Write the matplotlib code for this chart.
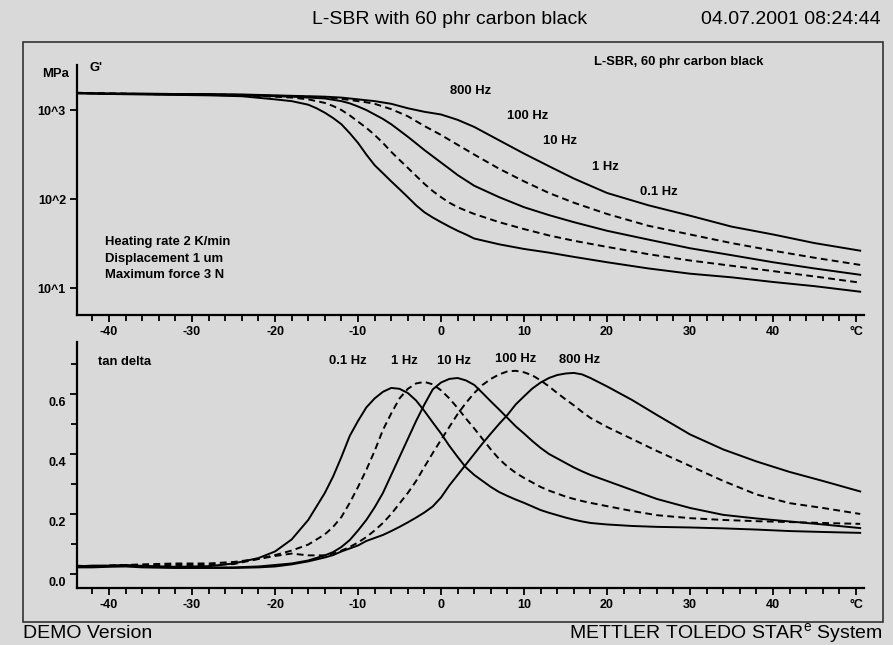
import numpy as np
import matplotlib
matplotlib.use("Agg")
import matplotlib.pyplot as plt
from matplotlib.patches import Rectangle
from matplotlib.ticker import MultipleLocator, FixedLocator, NullLocator
from matplotlib.transforms import ScaledTranslation

plt.rcParams['font.family'] = ['Liberation Sans', 'DejaVu Sans']

# storage modulus G' (MPa) vs temperature
temp_g = ([-44, -40, -36, -32, -28, -24, -20, -18]
          + list(range(-16, 5))
          + [7, 10, 13, 16, 20, 25, 30, 35, 40, 45, 50.5])
g_01 = [1549, 1514, 1496, 1479, 1462, 1429, 1318, 1259,
        1148, 1047, 933, 813, 692, 550, 427, 316, 240, 195, 158, 129, 105, 85, 71, 62, 55, 49, 44, 40, 36,
        31, 27.5, 25, 22.4, 19.5, 16.6, 14.5, 13.2, 11.7, 10.5, 9.1]
g_1 = [1567, 1531, 1514, 1496, 1479, 1462, 1413, 1380,
       1318, 1259, 1202, 1109, 1000, 871, 741, 631, 525, 427, 339, 275, 224, 182, 148, 123, 105, 91, 81, 74, 68,
       55, 46, 39, 34, 29, 24, 20.4, 17.8, 15.5, 13.5, 11.5]
g_10 = [1549, 1531, 1514, 1496, 1479, 1462, 1429, 1413,
        1380, 1365, 1349, 1303, 1259, 1189, 1096, 1000, 891, 794, 692, 589, 501, 422, 355, 302, 257, 219, 186,
        162, 141,
        105, 81, 66, 55, 44, 35, 28, 23.4, 19.5, 16.6, 14.1]
g_100 = [1549, 1531, 1514, 1514, 1496, 1479, 1445, 1429,
         1413, 1396, 1380, 1358, 1334, 1297, 1259, 1222, 1175, 1096, 1023, 933, 851, 750, 661, 589, 525, 462,
         407, 359, 316,
         219, 158, 117, 91, 68, 50, 40, 32, 26.3, 21.9, 18.2]
g_800 = [1549, 1531, 1531, 1514, 1514, 1496, 1462, 1445,
         1429, 1422, 1413, 1396, 1380, 1349, 1318, 1288, 1259, 1216, 1175, 1109, 1047, 1000, 955, 923, 891, 832,
         776, 708, 646,
         457, 324, 234, 170, 117, 85, 65, 49, 40, 32, 26.3]

# tan delta vs temperature
temp_t = ([-44, -42, -40, -38, -36, -32, -28, -25, -22, -20, -18, -16, -14]
          + list(range(-13, 19))
          + [20, 23, 26, 30, 34, 38, 42, 46, 50.5])
tan_01 = [0.025, 0.028, 0.028, 0.030, 0.027, 0.024, 0.026, 0.035, 0.053, 0.075, 0.115, 0.18, 0.27,
          0.325, 0.39, 0.46, 0.51, 0.555, 0.585, 0.607, 0.62, 0.617, 0.603, 0.578, 0.543, 0.505,
          0.468, 0.427, 0.39, 0.355, 0.33, 0.31, 0.29, 0.273, 0.26, 0.248, 0.237, 0.225, 0.213,
          0.204, 0.196, 0.188, 0.181, 0.175, 0.17,
          0.165, 0.16, 0.157, 0.155, 0.152, 0.148, 0.143, 0.14, 0.137]
tan_1 = [0.028, 0.025, 0.027, 0.030, 0.028, 0.030, 0.030, 0.033, 0.050, 0.063, 0.078, 0.098, 0.132,
         0.157, 0.19, 0.237, 0.29, 0.347, 0.41, 0.48, 0.535, 0.585, 0.617, 0.635, 0.64, 0.632,
         0.612, 0.585, 0.553, 0.518, 0.485, 0.45, 0.415, 0.383, 0.358, 0.337, 0.32, 0.305, 0.29,
         0.278, 0.268, 0.258, 0.25, 0.243, 0.237,
         0.226, 0.21, 0.196, 0.186, 0.18, 0.176, 0.173, 0.17, 0.167]
tan_10 = [0.025, 0.025, 0.026, 0.028, 0.025, 0.022, 0.022, 0.022, 0.025, 0.030, 0.035, 0.045, 0.062,
          0.073, 0.09, 0.113, 0.145, 0.18, 0.222, 0.27, 0.33, 0.39, 0.45, 0.51, 0.565, 0.615,
          0.638, 0.65, 0.653, 0.645, 0.63, 0.603, 0.575, 0.548, 0.52, 0.492, 0.468, 0.443, 0.42,
          0.40, 0.385, 0.37, 0.355, 0.342, 0.33,
          0.31, 0.28, 0.25, 0.22, 0.197, 0.185, 0.175, 0.165, 0.153]
tan_100 = [0.027, 0.025, 0.028, 0.030, 0.032, 0.035, 0.035, 0.040, 0.050, 0.060, 0.068, 0.062, 0.062,
           0.068, 0.078, 0.09, 0.105, 0.123, 0.145, 0.17, 0.20, 0.235, 0.27, 0.31, 0.357, 0.403,
           0.447, 0.49, 0.533, 0.57, 0.603, 0.63, 0.65, 0.665, 0.675, 0.677, 0.672, 0.662, 0.645,
           0.625, 0.603, 0.582, 0.562, 0.54, 0.52,
           0.49, 0.45, 0.41, 0.36, 0.31, 0.265, 0.236, 0.22, 0.20]
tan_800 = [0.022, 0.022, 0.024, 0.025, 0.022, 0.020, 0.020, 0.020, 0.022, 0.025, 0.032, 0.042, 0.055,
           0.063, 0.075, 0.085, 0.095, 0.11, 0.12, 0.13, 0.143, 0.157, 0.172, 0.188, 0.205, 0.225,
           0.255, 0.295, 0.33, 0.365, 0.40, 0.435, 0.468, 0.50, 0.53, 0.565, 0.592, 0.618, 0.638,
           0.653, 0.663, 0.668, 0.67, 0.665, 0.653,
           0.625, 0.58, 0.53, 0.465, 0.415, 0.375, 0.34, 0.31, 0.275]

x_ticks = [-40, -30, -20, -10, 0, 10, 20, 30, 40, 50]
x_labels = ['-40', '-30', '-20', '-10', '0', '10', '20', '30', '40', '°C']

bg = '#d9d9d9'
fig = plt.figure(figsize=(8.93, 6.45), dpi=100, facecolor=bg)

ax1 = fig.add_axes([77/893, 1-315/645, 787/893, 250/645])
ax2 = fig.add_axes([77/893, 1-588/645, 787/893, 246/645])

sol = dict(color='black', lw=1.4, solid_joinstyle='round')
dsh = dict(color='black', lw=1.4, ls=(0, (3.5, 2.2)))

ax1.plot(temp_g, g_01, **sol)
ax1.plot(temp_g, g_1, **dsh)
ax1.plot(temp_g, g_10, **sol)
ax1.plot(temp_g, g_100, **dsh)
ax1.plot(temp_g, g_800, **sol)
ax1.set_yscale('log')
ax1.set_ylim(4.98, 3206)
ax1.yaxis.set_major_locator(FixedLocator([10, 100, 1000]))
ax1.yaxis.set_minor_locator(NullLocator())
ax1.set_yticklabels(['10^1', '10^2', '10^3'])

ax2.plot(temp_t, tan_01, **sol)
ax2.plot(temp_t, tan_1, **dsh)
ax2.plot(temp_t, tan_10, **sol)
ax2.plot(temp_t, tan_100, **dsh)
ax2.plot(temp_t, tan_800, **sol)
ax2.set_ylim(-0.0467, 0.773)
ax2.set_yticks([0.0, 0.2, 0.4, 0.6])
ax2.set_yticklabels(['0.0', '0.2', '0.4', '0.6'])
ax2.yaxis.set_minor_locator(FixedLocator([0.1, 0.3, 0.5, 0.7]))

for ax in (ax1, ax2):
    ax.set_facecolor(bg)
    ax.set_xlim(-43.86, 50.96)
    ax.set_xticks(x_ticks)
    ax.set_xticklabels(x_labels)
    ax.xaxis.set_minor_locator(MultipleLocator(2))
    for s in ('top', 'right'):
        ax.spines[s].set_visible(False)
    for s in ('left', 'bottom'):
        ax.spines[s].set_linewidth(1.6)
    ax.tick_params(which='both', direction='out', width=1.3, colors='black')
    ax.tick_params(which='major', length=5, labelsize=9, pad=3)
    ax.tick_params(which='minor', length=4)
    for lab in ax.get_xticklabels() + ax.get_yticklabels():
        lab.set_fontweight('bold')

# lower y labels sit a little below their ticks
shift = ScaledTranslation(0, -8/100, fig.dpi_scale_trans)
for t in ax2.yaxis.get_major_ticks():
    t.label1.set_transform(t.label1.get_transform() + shift)

bold = dict(fontsize=9.4, fontweight='bold', va='center', ha='left')
ax1.text(0.0165, 0.988, "G'", transform=ax1.transAxes, **bold)
ax1.text(0.657, 1.012, 'L-SBR, 60 phr carbon black', transform=ax1.transAxes, **bold)
ax1.text(0.474, 0.896, '800 Hz', transform=ax1.transAxes, **bold)
ax1.text(0.546, 0.796, '100 Hz', transform=ax1.transAxes, **bold)
ax1.text(0.592, 0.696, '10 Hz', transform=ax1.transAxes, **bold)
ax1.text(0.654, 0.592, '1 Hz', transform=ax1.transAxes, **bold)
ax1.text(0.715, 0.492, '0.1 Hz', transform=ax1.transAxes, **bold)
ax1.text(0.0356, 0.292, 'Heating rate 2 K/min', transform=ax1.transAxes, **bold)
ax1.text(0.0356, 0.224, 'Displacement 1 um', transform=ax1.transAxes, **bold)
ax1.text(0.0356, 0.160, 'Maximum force 3 N', transform=ax1.transAxes, **bold)

ax2.text(0.0267, 0.919, 'tan delta', transform=ax2.transAxes, **bold)
ax2.text(0.320, 0.923, '0.1 Hz', transform=ax2.transAxes, **bold)
ax2.text(0.399, 0.923, '1 Hz', transform=ax2.transAxes, **bold)
ax2.text(0.457, 0.923, '10 Hz', transform=ax2.transAxes, **bold)
ax2.text(0.531, 0.931, '100 Hz', transform=ax2.transAxes, **bold)
ax2.text(0.612, 0.927, '800 Hz', transform=ax2.transAxes, **bold)

fig.text(42/893, 1-74/645, 'MPa', **bold)

fig.patches.append(Rectangle((23/893, 1-622/645), 860/893, 580/645, transform=fig.transFigure,
                             fill=False, edgecolor='#333333', lw=1.2))
fig.text(450/893, 1-20/645, 'L-SBR with 60 phr carbon black', ha='center', va='center', fontsize=14)
fig.text(881/893, 1-20/645, '04.07.2001 08:24:44', ha='right', va='center', fontsize=14)
fig.text(23/893, 1-634/645, 'DEMO Version', ha='left', va='center', fontsize=14)
fig.text(883/893, 1-634/645, r'METTLER TOLEDO STAR$^{\mathregular{e}}$ System', ha='right',
         va='center', fontsize=14)

fig.savefig('out.png', dpi=100, facecolor=bg)
